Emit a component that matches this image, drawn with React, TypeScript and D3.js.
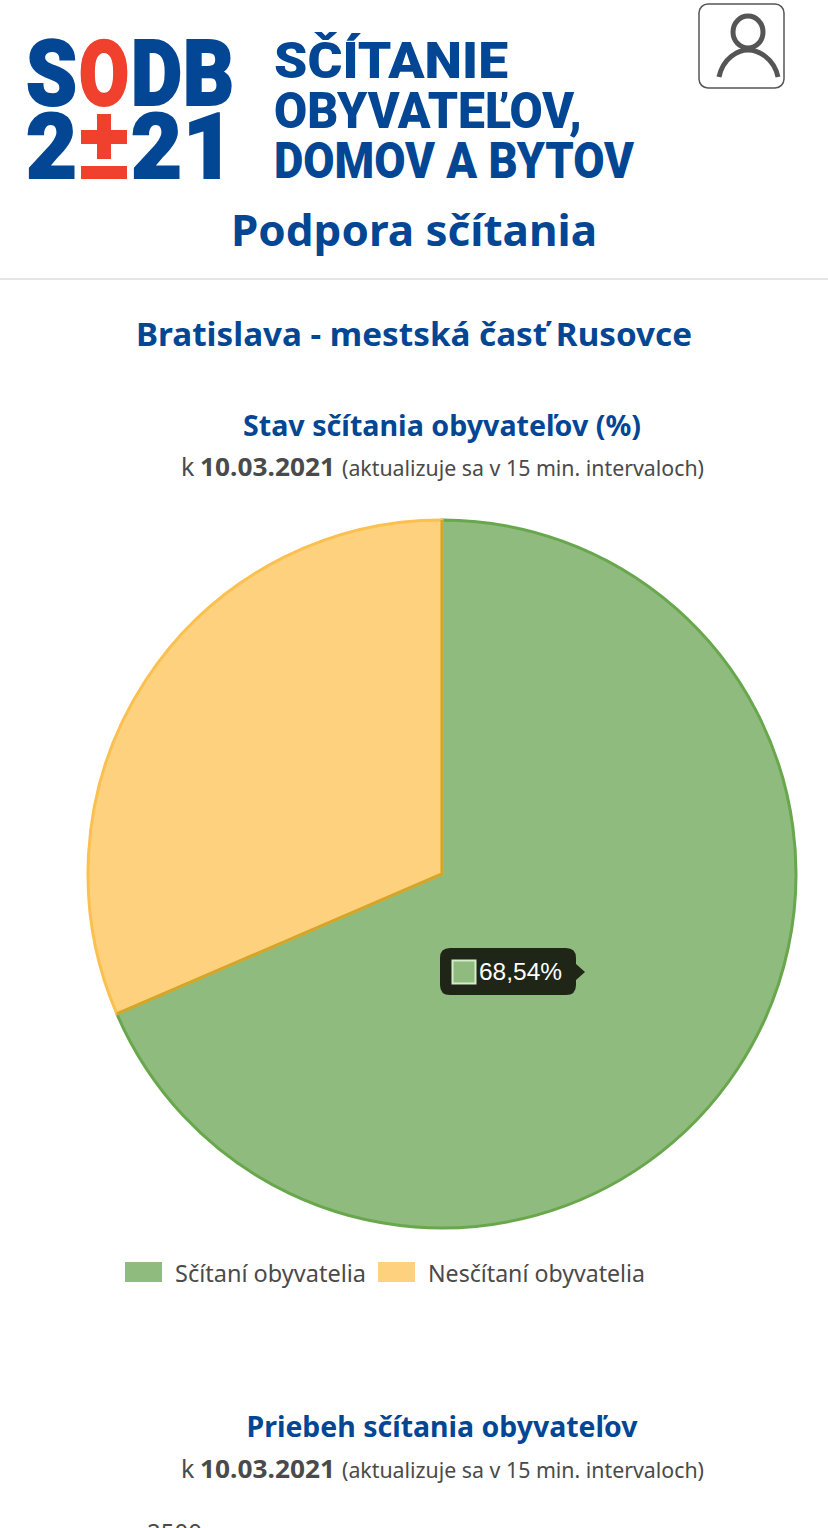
import React from "react";
import * as d3 from "d3";

const sliceNames = ["Sčítaní obyvatelia", "Nesčítaní obyvatelia"];
const sliceValues = [68.54, 31.46];
const sliceFills = ["#8fbb7e", "#fdd17e"];
const sliceStrokes = ["#68a74c", "#fbc04f"];
const sodbLetters = ["S", "O", "D", "B"];
const yearLetters = ["2", "±", "2", "1"];
const BLUE = "#034694";
const RED = "#ef412d";
const GREY = "#4a4a4a";
const SANS = "'Noto Sans', sans-serif";
const LOGO = "Roboto, sans-serif";

export default function App() {
  const cx = 442, cy = 874, r = 354;
  const pie = d3.pie<number>().sort(null)(sliceValues);
  const arc = d3.arc<d3.PieArcDatum<number>>().innerRadius(0).outerRadius(r);
  const logoX = [26, 79, 131, 183];
  const logoW = [51, 50, 51, 51];
  const splitA = pie[1].startAngle;
  const splitX = r * Math.sin(splitA), splitY = -r * Math.cos(splitA);
  return (
    <svg width={828} height={1528} viewBox="0 0 828 1528" style={{ position: "absolute", left: 0, top: 0, background: "#fff" }}>
      {sodbLetters.map((l, i) => (
        <text key={l} x={logoX[i]} y={105} fontFamily={LOGO} fontWeight={900} fontSize={90} textLength={logoW[i]} lengthAdjust="spacingAndGlyphs" fill={i === 1 ? RED : BLUE} stroke={i === 1 ? RED : BLUE} strokeWidth={2}>{l}</text>
      ))}
      {yearLetters.map((l, i) => i === 1 ? (
        <g key={i} fill={RED}>
          <rect x={81} y={130} width={46} height={14} />
          <rect x={97} y={114} width={14} height={45} />
          <rect x={81} y={166} width={46} height={13} />
        </g>
      ) : (
        <text key={i} x={logoX[i]} y={178} fontFamily={LOGO} fontWeight={900} fontSize={90} textLength={logoW[i]} lengthAdjust="spacingAndGlyphs" fill={BLUE} stroke={BLUE} strokeWidth={2}>{l}</text>
      ))}
      {[["SČÍTANIE", 78, 234], ["OBYVATEĽOV,", 128, 308], ["DOMOV A BYTOV", 178, 360]].map(([t, y, w]) => (
        <text key={t as string} x={274} y={y as number} fontFamily={LOGO} fontWeight={900} fontSize={50} textLength={w as number} lengthAdjust="spacingAndGlyphs" fill={BLUE}>{t}</text>
      ))}

      <rect x={699} y={4} width={85} height={84} rx={9} fill="#fff" stroke="#555" strokeWidth={1.5} />
      <ellipse cx={748} cy={32} rx={15} ry={16} fill="none" stroke="#555" strokeWidth={5} />
      <path d="M719 77 C723 58 738 50 748 50 C758 50 774 58 778 77" fill="none" stroke="#555" strokeWidth={5} />

      <text x={414} y={246} textAnchor="middle" fontFamily={SANS} fontWeight={700} fontSize={43} textLength={366} lengthAdjust="spacingAndGlyphs" fill={BLUE}>Podpora sčítania</text>
      <rect x={0} y={278} width={828} height={2} fill="#e6e6e6" />
      <text x={414} y={346} textAnchor="middle" fontFamily={SANS} fontWeight={700} fontSize={32} textLength={556} lengthAdjust="spacingAndGlyphs" fill={BLUE}>Bratislava - mestská časť Rusovce</text>

      <text x={442} y={436} textAnchor="middle" fontFamily={SANS} fontWeight={700} fontSize={28} textLength={398} lengthAdjust="spacingAndGlyphs" fill={BLUE}>Stav sčítania obyvateľov (%)</text>
      <text x={181} y={476} fontFamily={SANS} fontSize={25} fill={GREY}>k</text>
      <text x={200} y={476} fontFamily={SANS} fontWeight={700} fontSize={25} textLength={135} lengthAdjust="spacingAndGlyphs" fill={GREY}>10.03.2021</text>
      <text x={342} y={476} fontFamily={SANS} fontSize={22} textLength={362} lengthAdjust="spacingAndGlyphs" fill={GREY}>(aktualizuje sa v 15 min. intervaloch)</text>

      <g transform={`translate(${cx},${cy})`}>
        {pie.map((d, i) => (
          <path key={i} d={arc(d) ?? ""} fill={sliceFills[i]} stroke={sliceStrokes[i]} strokeWidth={3} />
        ))}
        <path d={`M0 ${-r} L0 0 L${splitX} ${splitY}`} fill="none" stroke="#d3a62a" strokeWidth={3} />
      </g>

      <path d="M448 948 H566 Q576 948 576 958 V964 L585 972 L576 980 V985 Q576 995 566 995 H450 Q440 995 440 985 V958 Q440 948 450 948 Z" fill="#1f2618" />
      <rect x={452.5} y={960.5} width={23} height={23} fill={sliceFills[0]} stroke="#d6ecc9" strokeWidth={2} />
      <text x={479} y={980} fontFamily="'Liberation Sans', Arial, sans-serif" fontSize={24} textLength={83} lengthAdjust="spacingAndGlyphs" fill="#fff">68,54%</text>

      {sliceNames.map((n, i) => (
        <g key={n}>
          <rect x={[125, 378][i]} y={1262} width={37} height={20} fill={sliceFills[i]} />
          <text x={[175, 428][i]} y={1282} fontFamily={SANS} fontSize={24} textLength={[191, 217][i]} lengthAdjust="spacingAndGlyphs" fill={GREY}>{n}</text>
        </g>
      ))}

      <text x={442} y={1437} textAnchor="middle" fontFamily={SANS} fontWeight={700} fontSize={28} textLength={391} lengthAdjust="spacingAndGlyphs" fill={BLUE}>Priebeh sčítania obyvateľov</text>
      <text x={181} y={1478} fontFamily={SANS} fontSize={25} fill={GREY}>k</text>
      <text x={200} y={1478} fontFamily={SANS} fontWeight={700} fontSize={25} textLength={135} lengthAdjust="spacingAndGlyphs" fill={GREY}>10.03.2021</text>
      <text x={342} y={1478} fontFamily={SANS} fontSize={22} textLength={362} lengthAdjust="spacingAndGlyphs" fill={GREY}>(aktualizuje sa v 15 min. intervaloch)</text>
      <text x={147} y={1541} fontFamily={SANS} fontSize={24} fill={GREY}>2500</text>
    </svg>
  );
}
